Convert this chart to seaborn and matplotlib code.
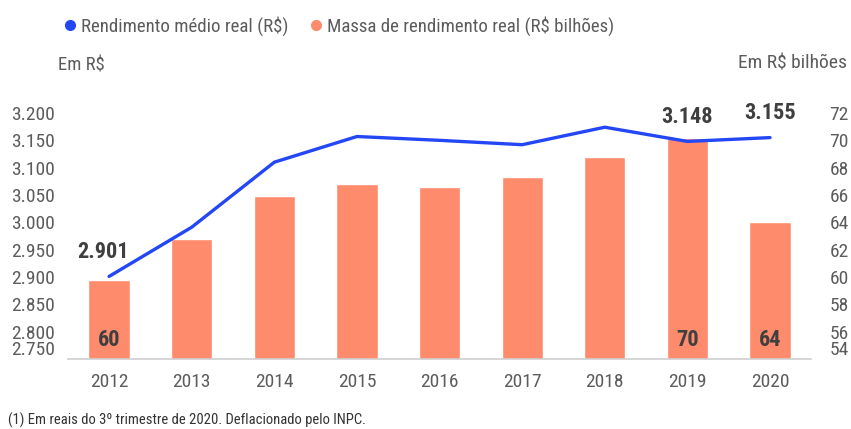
#!/usr/bin/env python3
from __future__ import annotations

import numpy as np
import pandas as pd
import seaborn as sns
from matplotlib import pyplot as plt
from matplotlib.lines import Line2D

# Chart data
years = ["2012", "2013", "2014", "2015", "2016", "2017", "2018", "2019", "2020"]
rendimento_medio = [2901, 2991, 3110, 3157, 3150, 3142, 3174, 3148, 3155]  # R$
massa_rendimento = [59.8, 62.8, 65.9, 66.8, 66.6, 67.3, 68.8, 70.2, 64.0]  # R$ bilhoes
left_ticks = [2750, 2800, 2850, 2900, 2950, 3000, 3050, 3100, 3150, 3200]
right_ticks = [54, 56, 58, 60, 62, 64, 66, 68, 70, 72]
labelled_years = ["2012", "2019", "2020"]
legend_labels = ["Rendimento médio real (R$)", "Massa de rendimento real (R$ bilhões)"]
left_unit = "Em R$"
right_unit = "Em R$ bilhões"
footnote = "(1) Em reais do 3º trimestre de 2020. Deflacionado pelo INPC."

LINE_COLOR = "#2347f5"
BAR_COLOR = "#fe8b6c"
TEXT_COLOR = "#5c5c5c"
LABEL_COLOR = "#3f3f3f"
AXIS_COLOR = "#d0d0d0"


def br_thousands(v: float) -> str:
    return f"{v:,.0f}".replace(",", ".")


def main() -> None:
    sns.set_style("white")
    # narrow face, the reference uses a condensed font
    plt.rcParams["font.family"] = ["Roboto Condensed", "Noto Sans", "DejaVu Sans"]
    plt.rcParams["font.stretch"] = "condensed"

    df = pd.DataFrame(
        {
            "ano": years,
            "pos": np.arange(len(years)),
            "rendimento": rendimento_medio,
            "massa": massa_rendimento,
        }
    )

    fig = plt.figure(figsize=(8.51, 4.29), dpi=100)
    ax = fig.add_axes([0.0796, 0.1632, 0.8738, 0.5734])
    ax2 = ax.twinx()

    # bars on the right axis, line on the left axis drawn on top
    sns.barplot(data=df, x="ano", y="massa", ax=ax2, color=BAR_COLOR,
                width=0.5, saturation=1)
    sns.lineplot(data=df, x="pos", y="rendimento", ax=ax, color=LINE_COLOR,
                 linewidth=2.4, sort=False)
    ax.set_zorder(ax2.get_zorder() + 1)
    ax.patch.set_visible(False)

    n = len(years)
    ax.set_xlim(-0.5, n - 0.5)
    ax.set_xticks(np.arange(n))
    ax.set_xticklabels(years)
    ax.set_xticks(np.arange(n + 1) - 0.5, minor=True)
    ax.set_ylim(left_ticks[0], left_ticks[-1])
    ax.set_yticks(left_ticks)
    ax.set_yticklabels([br_thousands(v) for v in left_ticks])
    ax2.set_ylim(right_ticks[0], right_ticks[-1])
    ax2.set_yticks(right_ticks)
    ax2.set_yticklabels([str(v) for v in right_ticks])

    for a in (ax, ax2):
        a.set_xlabel("")
        a.set_ylabel("")
        for side in ("top", "left", "right", "bottom"):
            a.spines[side].set_visible(False)
    ax.spines["bottom"].set_visible(True)
    ax.spines["bottom"].set_color(AXIS_COLOR)
    ax.spines["bottom"].set_linewidth(1.2)

    ax.tick_params(axis="x", which="major", length=0, pad=10,
                   labelsize=14, labelcolor=TEXT_COLOR)
    ax.tick_params(axis="x", which="minor", length=5, width=1.2,
                   color=AXIS_COLOR, direction="out")
    ax.tick_params(axis="y", length=0, pad=9, labelsize=14, labelcolor=TEXT_COLOR)
    ax2.tick_params(axis="y", length=0, pad=13, labelsize=14, labelcolor=TEXT_COLOR)
    ax.get_yticklabels()[0].set_verticalalignment("bottom")
    ax2.get_yticklabels()[0].set_verticalalignment("bottom")

    for i, year in enumerate(years):
        if year not in labelled_years:
            continue
        dx = -4 if i == 0 else 0  # first label sits a bit left of its point
        ax.annotate(br_thousands(rendimento_medio[i]), xy=(i, rendimento_medio[i]),
                    xytext=(dx, 9.5), textcoords="offset points", ha="center", va="bottom",
                    fontsize=16, fontweight="bold", color=LABEL_COLOR)
        ax2.annotate(f"{massa_rendimento[i]:.0f}", xy=(i, right_ticks[0]),
                     xytext=(0, 6), textcoords="offset points", ha="center", va="bottom",
                     fontsize=16, fontweight="bold", color=LABEL_COLOR)

    handles = [
        Line2D([], [], marker="o", ls="", color=LINE_COLOR, markersize=7),
        Line2D([], [], marker="o", ls="", color=BAR_COLOR, markersize=7),
    ]
    fig.legend(handles, legend_labels, loc="center left", bbox_to_anchor=(0.074, 0.94),
               ncol=2, frameon=False, fontsize=13.6, handlelength=0.7, handletextpad=0.25,
               columnspacing=1.1, borderpad=0, borderaxespad=0, labelcolor=TEXT_COLOR)

    fig.text(58 / 851, 1 - 66 / 429, left_unit, ha="left", va="center",
             fontsize=13.5, color=TEXT_COLOR)
    fig.text(847 / 851, 1 - 64 / 429, right_unit, ha="right", va="center",
             fontsize=14, color=TEXT_COLOR)
    fig.text(8 / 851, 1 - 420 / 429, footnote, ha="left", va="center",
             fontsize=10.5, color="#333333")

    fig.savefig("out.png", dpi=100)
    plt.close(fig)


if __name__ == "__main__":
    main()
